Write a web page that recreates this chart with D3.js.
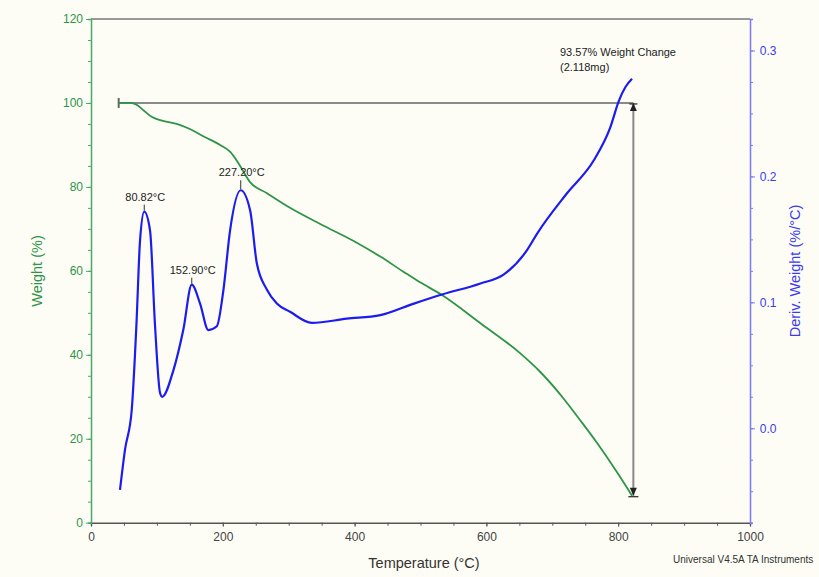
<!DOCTYPE html>
<html>
<head>
<meta charset="utf-8">
<script src="https://cdn.jsdelivr.net/npm/d3@7"></script>
<style>
  html, body { margin: 0; padding: 0; background: #fdfdf6; }
  svg { display: block; font-family: "Liberation Sans", Arial, sans-serif; }
</style>
</head>
<body>
<svg id="chart" width="819" height="577"></svg>
<script>
// TGA weight loss curve: temperature (°C) and weight (%)
const weightTemp = [42, 60, 69, 80, 92, 105, 130, 150, 171, 196, 211, 224, 241, 267, 300, 350, 400, 439, 474, 500, 532, 591, 651, 680, 717, 740, 768, 800, 821];
const weightPct  = [100, 100, 99.6, 98.2, 96.7, 95.9, 95.0, 93.8, 92.0, 90.0, 88.4, 85.6, 81.2, 78.5, 75.2, 71.0, 67.0, 63.4, 59.8, 57.2, 54.3, 47.5, 40.4, 36.2, 29.6, 24.9, 19.0, 11.6, 6.43];

// DTG derivative curve: temperature (°C) and deriv. weight (%/°C)
const derivTemp = [44, 51.6, 61.8, 69, 74.4, 80.82, 89.6, 97, 104.8, 108, 125, 140, 152.9, 165.5, 178, 191, 201, 211, 227.2, 241.5, 251.6, 267, 282, 302, 335, 388, 439, 490, 532.5, 591, 626, 661.6, 677, 722, 763, 788, 801, 811, 821];
const derivVal  = [-0.049, -0.017, 0.0145, 0.083, 0.149, 0.172, 0.157, 0.083, 0.028, 0.025, 0.046, 0.078, 0.114, 0.099, 0.078, 0.081, 0.110, 0.157, 0.189, 0.173, 0.131, 0.110, 0.099, 0.0925, 0.0837, 0.087, 0.0898, 0.099, 0.1062, 0.115, 0.122, 0.1414, 0.1546, 0.1864, 0.2128, 0.239, 0.260, 0.271, 0.2776];

// Peak annotations on the derivative curve
const peakTemps  = [80.82, 152.90, 227.20];
const peakLabels = ["80.82°C", "152.90°C", "227.20°C"];
const peakLabelRise = [11, 11, 14];

// Weight-change step annotation
const stepStartTemp = 42;
const stepEndTemp = 823;
const stepTopWeight = 100;
const stepEndWeight = 6.43;
const stepLines = ["93.57% Weight Change", "(2.118mg)"];

// Axis ticks
const xTicks = [0, 200, 400, 600, 800, 1000];
const yTicks = [0, 20, 40, 60, 80, 100, 120];
const y2Ticks = [0.0, 0.1, 0.2, 0.3];

const svg = d3.select("#chart");
const plot = { left: 91, right: 750, top: 19, bottom: 522.7 };

const x = d3.scaleLinear().domain([0, 1000]).range([plot.left, plot.right]);
const y = d3.scaleLinear().domain([0, 120]).range([plot.bottom, plot.top]);
const y2 = d3.scaleLinear().domain([-0.075, 0.325]).range([plot.bottom, plot.top]);

const green = "#2e9448";
const greenAxis = "#4aa868";
const blue = "#1c1cf0";
const blueAxis = "#7a7aff";
const grey = "#555";

// plot frame top line
svg.append("line")
  .attr("x1", plot.left).attr("x2", plot.right)
  .attr("y1", plot.top).attr("y2", plot.top)
  .attr("stroke", "#777").attr("stroke-width", 1.5);

// X axis (minor + major)
const xAxisG = svg.append("g").attr("transform", `translate(0,${plot.bottom})`);
xAxisG.call(d3.axisBottom(x).tickValues(d3.range(0, 1001, 50)).tickSize(3).tickFormat(""))
  .call(g => g.select(".domain").attr("stroke", grey).attr("stroke-width", 1.5))
  .call(g => g.selectAll("line").attr("stroke", grey));
const xMajor = svg.append("g").attr("transform", `translate(0,${plot.bottom})`)
  .call(d3.axisBottom(x).tickValues(xTicks).tickSize(4).tickFormat(d3.format("d")));
xMajor.select(".domain").remove();
xMajor.selectAll("line").attr("stroke", grey);
xMajor.selectAll("text").attr("fill", "#444").attr("font-size", 12).attr("dy", "0.95em");

// Left Y axis
const yMinor = svg.append("g").attr("transform", `translate(${plot.left},0)`)
  .call(d3.axisLeft(y).tickValues(d3.range(0, 121, 5)).tickSize(3).tickFormat(""));
yMinor.select(".domain").attr("stroke", greenAxis).attr("stroke-width", 1.5);
yMinor.selectAll("line").attr("stroke", greenAxis);
const yMajor = svg.append("g").attr("transform", `translate(${plot.left},0)`)
  .call(d3.axisLeft(y).tickValues(yTicks).tickSize(5).tickFormat(d3.format("d")));
yMajor.select(".domain").remove();
yMajor.selectAll("line").attr("stroke", greenAxis);
yMajor.selectAll("text").attr("fill", green).attr("font-size", 12).attr("dx", "0em");

// Right Y axis
const y2Minor = svg.append("g").attr("transform", `translate(${plot.right},0)`)
  .call(d3.axisRight(y2).tickValues(d3.range(-0.075, 0.326, 0.025)).tickSize(3).tickFormat(""));
y2Minor.select(".domain").attr("stroke", blueAxis).attr("stroke-width", 1.5);
y2Minor.selectAll("line").attr("stroke", blueAxis);
const y2Major = svg.append("g").attr("transform", `translate(${plot.right},0)`)
  .call(d3.axisRight(y2).tickValues(y2Ticks).tickSize(5).tickFormat(d3.format(".1f")));
y2Major.select(".domain").remove();
y2Major.selectAll("line").attr("stroke", blueAxis);
y2Major.selectAll("text").attr("fill", "#3a3af0").attr("font-size", 12).attr("dx", "0.15em");

// Axis titles
svg.append("text")
  .attr("transform", "translate(42,271) rotate(-90)")
  .attr("text-anchor", "middle").attr("fill", green).attr("font-size", 14.5)
  .text("Weight (%)");
svg.append("text")
  .attr("transform", "translate(800,271) rotate(-90)")
  .attr("text-anchor", "middle").attr("fill", "#3a3af0").attr("font-size", 14.5)
  .text("Deriv. Weight (%/°C)");
svg.append("text")
  .attr("x", 424).attr("y", 568)
  .attr("text-anchor", "middle").attr("fill", "#333").attr("font-size", 14.5)
  .text("Temperature (°C)");
svg.append("text")
  .attr("x", 673).attr("y", 563)
  .attr("fill", "#333").attr("font-size", 10)
  .text("Universal V4.5A TA Instruments");

// Weight change step lines
const stepG = svg.append("g").attr("stroke", "#8a8a8a").attr("stroke-width", 2).attr("fill", "none");
stepG.append("line")
  .attr("x1", x(stepStartTemp)).attr("x2", x(stepEndTemp))
  .attr("y1", y(stepTopWeight)).attr("y2", y(stepTopWeight));
stepG.append("line")
  .attr("x1", x(stepStartTemp)).attr("x2", x(stepStartTemp))
  .attr("y1", y(stepTopWeight) - 5).attr("y2", y(stepTopWeight) + 5)
  .attr("stroke", "#666");
stepG.append("line")
  .attr("x1", x(stepEndTemp)).attr("x2", x(stepEndTemp))
  .attr("y1", y(stepTopWeight)).attr("y2", y(stepEndWeight));

// arrowheads at both ends of the vertical step
const ax = x(stepEndTemp);
const arrow = d3.line();
svg.append("path")
  .attr("d", arrow([[ax - 3.5, y(stepTopWeight) + 8], [ax, y(stepTopWeight)], [ax + 3.5, y(stepTopWeight) + 8]]))
  .attr("fill", "#222");
svg.append("line")
  .attr("x1", ax - 4).attr("x2", ax + 4)
  .attr("y1", y(stepTopWeight) + 1).attr("y2", y(stepTopWeight) + 1)
  .attr("stroke", "#222").attr("stroke-width", 1.2);
svg.append("path")
  .attr("d", arrow([[ax - 3.5, y(stepEndWeight) - 8], [ax, y(stepEndWeight)], [ax + 3.5, y(stepEndWeight) - 8]]))
  .attr("fill", "#222");
svg.append("line")
  .attr("x1", ax - 5).attr("x2", ax + 5)
  .attr("y1", y(stepEndWeight) + 1).attr("y2", y(stepEndWeight) + 1)
  .attr("stroke", "#222").attr("stroke-width", 1.2);

const stepText = svg.append("g").attr("fill", "#222").attr("font-size", 11);
stepLines.forEach((t, i) => {
  stepText.append("text").attr("x", 560).attr("y", 56 + i * 15).text(t);
});

// Weight curve
const weightData = weightTemp.map((t, i) => [t, weightPct[i]]);
svg.append("path")
  .datum(weightData)
  .attr("fill", "none").attr("stroke", green).attr("stroke-width", 1.8)
  .attr("d", d3.line().x(d => x(d[0])).y(d => y(d[1])).curve(d3.curveMonotoneX));

// Derivative curve
const derivData = derivTemp.map((t, i) => [t, derivVal[i]]);
svg.append("path")
  .datum(derivData)
  .attr("fill", "none").attr("stroke", blue).attr("stroke-width", 2.2)
  .attr("d", d3.line().x(d => x(d[0])).y(d => y2(d[1])).curve(d3.curveMonotoneX));

// Peak labels
peakTemps.forEach((t, i) => {
  const v = derivVal[derivTemp.indexOf(t)];
  const px = x(t), py = y2(v);
  svg.append("line")
    .attr("x1", px).attr("x2", px)
    .attr("y1", py - 1).attr("y2", py - peakLabelRise[i] + 4)
    .attr("stroke", "#333").attr("stroke-width", 1);
  svg.append("text")
    .attr("x", px + 1).attr("y", py - peakLabelRise[i])
    .attr("text-anchor", "middle").attr("fill", "#222").attr("font-size", 11)
    .text(peakLabels[i]);
});
</script>
</body>
</html>
